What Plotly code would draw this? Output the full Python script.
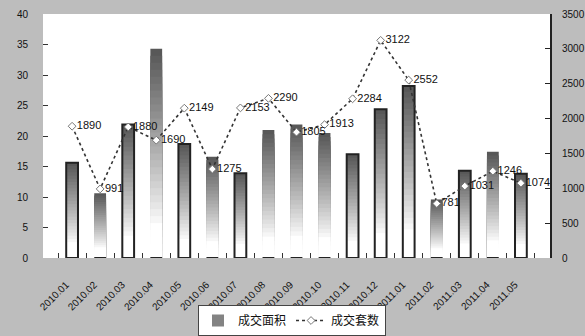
import plotly.graph_objects as go

# Monthly transactions: floor area (bars, left axis) and number of units (dotted line, right axis)
months = ["2010.01", "2010.02", "2010.03", "2010.04", "2010.05", "2010.06",
          "2010.07", "2010.08", "2010.09", "2010.10", "2010.11", "2010.12",
          "2011.01", "2011.02", "2011.03", "2011.04", "2011.05"]
area = [15.6, 10.6, 21.9, 34.3, 18.7, 16.6, 13.9, 21.0, 21.9, 20.5,
        17.0, 24.4, 28.2, 9.6, 14.3, 17.4, 13.8]
units = [1890, 991, 1880, 1690, 2149, 1275, 2153, 2290, 1805, 1913,
         2284, 3122, 2552, 781, 1031, 1246, 1074]

area_name = "成交面积"
units_name = "成交套数"

left_ticks = [0, 5, 10, 15, 20, 25, 30, 35, 40]
right_ticks = [0, 500, 1000, 1500, 2000, 2500, 3000, 3500]

# bars drawn with a dark outline
outlined = [True, False, True, False, True, False, True, False, False, False,
            True, True, True, False, True, False, True]

fig = go.Figure()

# vertical gradient for the bars: nested bars, darkest/tallest first
N = 30
for k in range(N - 1, -1, -1):
    f = (k + 0.5) / N
    t = max(0.0, (f - 0.15) / 0.85)
    g = int(round(255 - 170 * t ** 0.9))
    col = f"rgb({g},{g},{g})"
    fig.add_trace(go.Bar(
        x=months, y=[v * (k + 1) / N for v in area],
        marker=dict(color=col, line=dict(width=0)),
        width=0.42, name=area_name,
        showlegend=(k == int(N * 0.75)), legendgroup="area",
        hoverinfo="skip", yaxis="y",
    ))

# outlines on the marked bars
fig.add_trace(go.Bar(
    x=months, y=[v if o else 0 for v, o in zip(area, outlined)],
    marker=dict(color="rgba(0,0,0,0)", line=dict(color="#222222", width=2)),
    width=0.42, showlegend=False, hoverinfo="skip", yaxis="y",
))

fig.add_trace(go.Scatter(
    x=months, y=units, yaxis="y2", name=units_name,
    mode="lines+markers+text",
    line=dict(color="#333333", width=1.6, dash="dot"),
    marker=dict(symbol="diamond", size=6, color="white",
                line=dict(color="#777777", width=1)),
    text=[str(v) for v in units], textposition="middle right",
    textfont=dict(family="Liberation Sans, Arial", size=11, color="#111111"),
    cliponaxis=False,
))

fig.update_layout(
    width=585, height=336,
    margin=dict(l=43, r=35, t=14, b=78),
    paper_bgcolor="#bdbdbd", plot_bgcolor="white",
    barmode="overlay",
    font=dict(family="Liberation Sans, Arial", size=10, color="#111111"),
    xaxis=dict(
        type="category", tickangle=-45, showgrid=False, zeroline=False,
        ticks="inside", tickson="boundaries", ticklen=5, tickcolor="#333333",
        tickfont=dict(size=10), ticklabelshift=-6, ticklabelstandoff=18,
        showline=False, automargin=False,
    ),
    yaxis=dict(
        range=[0, 40], tickvals=left_ticks, showgrid=False, zeroline=False,
        ticks="inside", ticklen=5, tickcolor="#333333", showline=False,
        ticklabelstandoff=14, tickfont=dict(size=10), automargin=False,
    ),
    yaxis2=dict(
        range=[0, 3500], tickvals=right_ticks, overlaying="y", side="right",
        showgrid=False, zeroline=False, ticks="inside", ticklen=5,
        tickcolor="#222222", showline=True, linecolor="#222222", linewidth=2,
        ticklabelstandoff=8, tickfont=dict(size=10), automargin=False,
    ),
    legend=dict(
        orientation="h", x=198 / 585, y=0, xref="container", yref="container",
        xanchor="left", yanchor="bottom",
        bgcolor="white", bordercolor="#444444", borderwidth=1,
        font=dict(family="Noto Sans CJK SC", size=12, color="#111111"),
        itemwidth=30,
    ),
    showlegend=True,
)

fig.write_html("out.html")
